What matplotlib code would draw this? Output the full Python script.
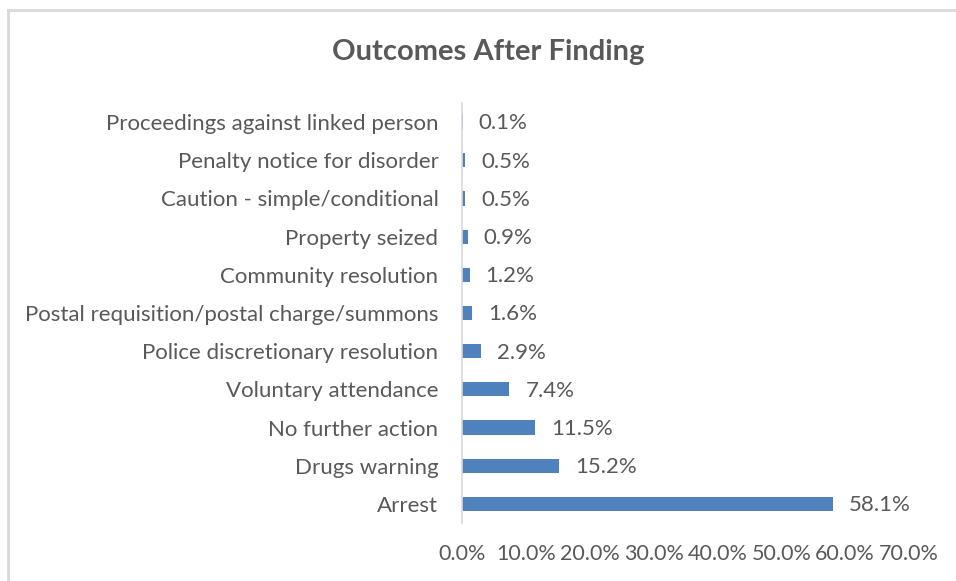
import matplotlib.pyplot as plt
from matplotlib.lines import Line2D

outcomes = [
    "Arrest",
    "Drugs warning",
    "No further action",
    "Voluntary attendance",
    "Police discretionary resolution",
    "Postal requisition/postal charge/summons",
    "Community resolution",
    "Property seized",
    "Caution - simple/conditional",
    "Penalty notice for disorder",
    "Proceedings against linked person",
]
share = [58.1, 15.2, 11.5, 7.4, 2.9, 1.6, 1.2, 0.9, 0.5, 0.5, 0.1]
ticks = [0, 10, 20, 30, 40, 50, 60, 70]

text_col = "#595959"
bar_col = "#4F81BD"
plt.rcParams["font.family"] = ["Lato", "DejaVu Sans"]
fs = 15.5

fig = plt.figure(figsize=(9.56, 5.81), dpi=100)
ax = fig.add_axes([0.4833, 0.0998, 0.4675, 0.7229])

y = range(len(outcomes))
ax.barh(y, share, height=0.37, color=bar_col)
for yi, v in zip(y, share):
    ax.annotate(f"{v:.1f}%", (v, yi), xytext=(11.5, -1), textcoords="offset points",
                va="center", ha="left", fontsize=fs + 0.5, color=text_col)

ax.set_xlim(0, 70)
ax.set_ylim(-0.5, len(outcomes) - 0.5)
ax.set_yticks(list(y))
ax.set_yticklabels(outcomes, fontsize=16, color=text_col)
ax.set_xticks(ticks)
ax.set_xticklabels([f"{t:.1f}%" for t in ticks], fontsize=fs, color=text_col)
ax.tick_params(axis="both", length=0)
ax.tick_params(axis="x", pad=15)
ax.tick_params(axis="y", pad=17)

for side in ["top", "right", "bottom"]:
    ax.spines[side].set_visible(False)
ax.spines["left"].set_color("#D9D9D9")
ax.spines["left"].set_linewidth(1.2)

fig.text(0.511, 0.91, "Outcomes After Finding", ha="center", va="center",
         fontsize=21, fontweight="bold", color=text_col)

# chart frame (left and top edges)
fig.add_artist(Line2D([0.0085, 0.0085], [0, 0.982], color="#D9D9D9", lw=2))
fig.add_artist(Line2D([0.0085, 1.0], [0.982, 0.982], color="#D9D9D9", lw=2))

fig.savefig("out.png", dpi=100, facecolor="white")
